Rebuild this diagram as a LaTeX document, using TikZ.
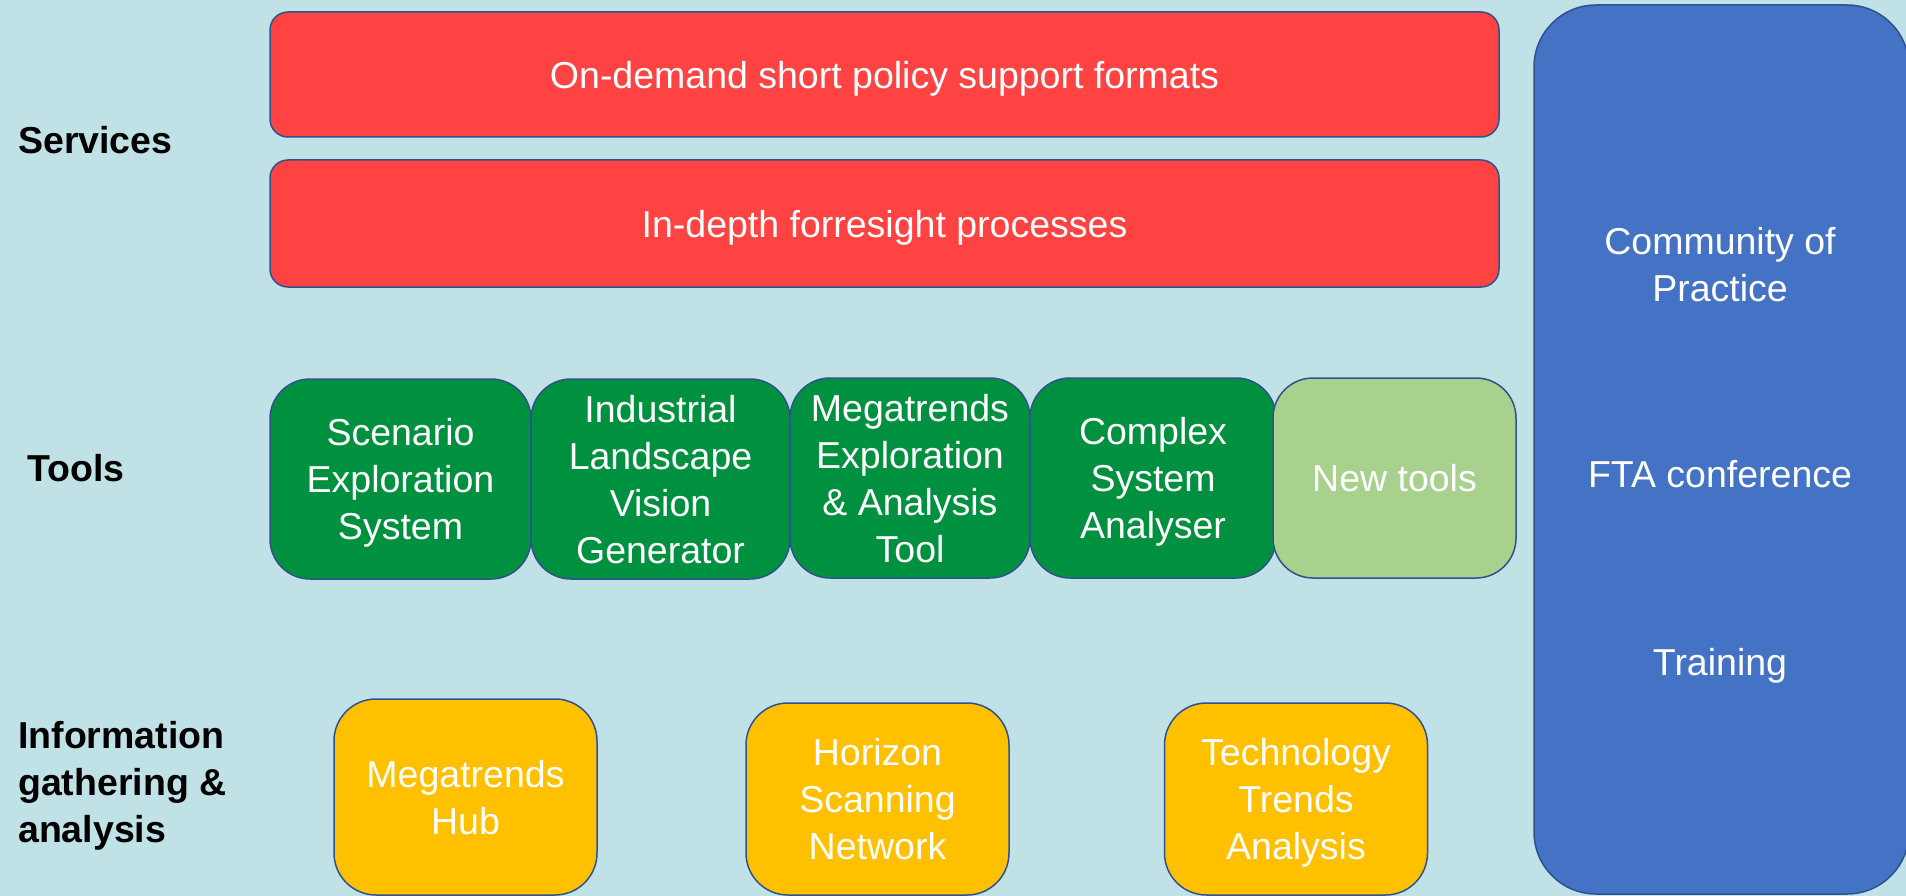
\documentclass[tikz,border=0pt]{standalone}
\usepackage{fontspec}
\setmainfont{Liberation Sans}
\usepackage{tikz}
\usepackage{color}

\definecolor{bgcyan}{RGB}{192,226,230}
\definecolor{edgeblue}{RGB}{47,82,143}
\definecolor{svcred}{RGB}{255,67,67}
\definecolor{toolgreen}{RGB}{0,145,64}
\definecolor{newgreen}{RGB}{169,209,142}
\definecolor{infoyellow}{RGB}{255,192,0}
\definecolor{cpblue}{RGB}{68,114,196}

\begin{document}
\begin{tikzpicture}[x=1pt,y=-1pt,
    box/.style={draw=edgeblue, line width=1.5pt, text=white, align=center,
      inner sep=0pt, text depth=0pt, font=\fontsize{37.5}{47}\selectfont},
    svcbox/.style={box, fill=svcred, rounded corners=18pt,
      minimum width=1229pt},
    toolbox/.style={box, fill=toolgreen, rounded corners=40pt,
      minimum height=200pt},
    infobox/.style={box, fill=infoyellow, rounded corners=42pt,
      minimum width=263pt},
    rowlabel/.style={anchor=west, align=left, inner sep=0pt, text depth=0pt,
      font=\fontsize{37.5}{47}\selectfont\bfseries},
    sidetext/.style={text=white, align=center, inner sep=0pt, text depth=0pt,
      font=\fontsize{37.5}{47}\selectfont}]
    \path[fill=bgcyan, use as bounding box] (0,0) rectangle (1906,896);
    \clip (0,0) rectangle (1906,896);

    % row labels
    \node (services) at (18,140) [rowlabel] {Services};
    \node (tools) at (27,468) [rowlabel] {Tools};
    \node (info) at (18,782) [rowlabel] {Information\\gathering \&\\analysis};

    % services
    \node (ondemand) at (884.5,74.5) [svcbox, minimum height=125pt]
      {On-demand short policy support formats};
    \node (indepth) at (884.5,223.5) [svcbox, minimum height=127pt]
      {In-depth forresight processes};

    % tools
    \node (ses) at (400.5,479) [toolbox, minimum width=261pt]
      {Scenario\\Exploration\\System};
    \node (ilvg) at (660.5,479) [toolbox, minimum width=259pt]
      {Industrial\\Landscape\\Vision\\Generator};
    \node (meat) at (910,478) [toolbox, minimum width=240pt]
      {Megatrends\\Exploration\\\& Analysis\\Tool};
    \node (csa) at (1153,478) [toolbox, minimum width=246pt]
      {Complex\\System\\Analyser};
    \node (newtools) at (1394.5,478) [toolbox, fill=newgreen, minimum width=243pt]
      {New tools};

    % community column
    \node (cpcol) at (1721.5,449.5) [box, fill=cpblue, rounded corners=62pt,
      minimum width=375pt, minimum height=889pt] {};
    \node (cop) at (1720,264) [sidetext] {Community of\\Practice};
    \node (fta) at (1720,474) [sidetext] {FTA conference};
    \node (training) at (1720,662) [sidetext] {Training};

    % information gathering
    \node (mhub) at (465.5,797) [infobox, minimum height=196pt]
      {Megatrends\\Hub};
    \node (hsn) at (877.5,799) [infobox, minimum height=192pt]
      {Horizon\\Scanning\\Network};
    \node (tta) at (1296,799) [infobox, minimum height=192pt]
      {Technology\\Trends\\Analysis};
  \end{tikzpicture}
\end{document}
